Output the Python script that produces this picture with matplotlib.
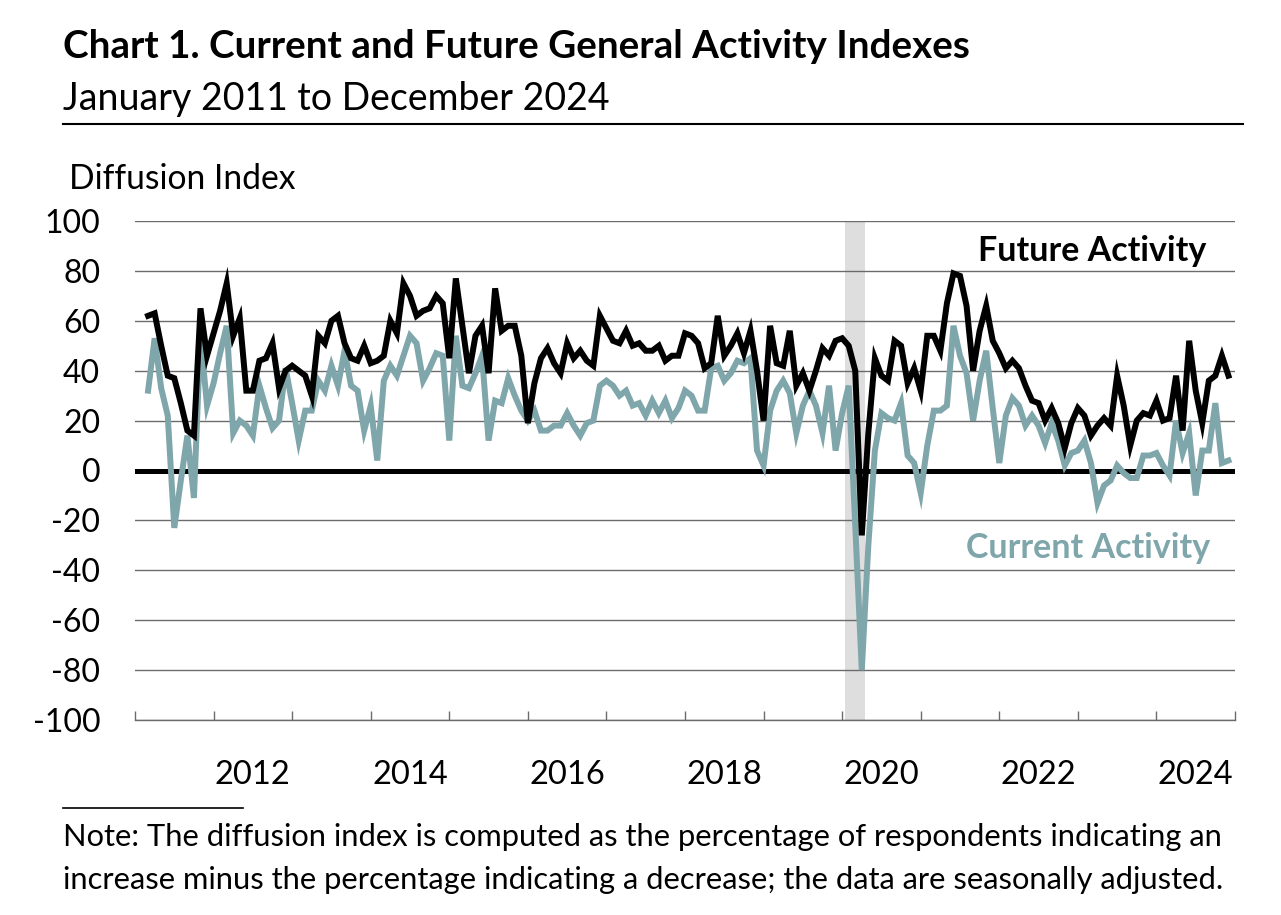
import numpy as np
import pandas as pd
import matplotlib
matplotlib.use('Agg')
import matplotlib.pyplot as plt

# monthly diffusion index values, March 2011 .. December 2024
future = [62, 63, 50, 38, 37, 27, 16, 14, 65, 46,                       # 2011
          55, 64, 75, 54, 61, 32, 32, 44, 45, 51, 33, 40,               # 2012
          42, 40, 38, 30, 54, 51, 60, 62, 51, 45, 44, 50,               # 2013
          43, 44, 46, 60, 55, 75, 70, 62, 64, 65, 70, 67,               # 2014
          45, 77, 58, 39, 54, 58, 39, 73, 56, 58, 58, 46,               # 2015
          19, 35, 45, 49, 43, 39, 51, 45, 48, 44, 42, 62,               # 2016
          57, 52, 51, 56, 50, 51, 48, 48, 50, 44, 46, 46,               # 2017
          55, 54, 51, 41, 43, 62, 46, 50, 55, 47, 56, 40,               # 2018
          20, 58, 43, 42, 56, 34, 39, 32, 40, 49, 46, 52,               # 2019
          53, 50, 40, -26, 15, 45, 38, 36, 52, 50, 35, 41,              # 2020
          32, 54, 54, 48, 67, 79, 78, 66, 40, 56, 66, 52,               # 2021
          47, 41, 44, 41, 34, 28, 27, 20, 25, 19, 9, 19,                # 2022
          25, 22, 14, 18, 21, 18, 38, 26, 10, 20, 23, 22,               # 2023
          28, 20, 21, 38, 16, 52, 32, 19, 36, 38, 46, 38]               # 2024

current = [32, 53, 33, 22, -23, -4, 14, -11, 54, 26,                    # 2011
           35, 47, 58, 15, 20, 18, 14, 34, 25, 17, 20, 41,              # 2012
           27, 12, 24, 24, 36, 32, 42, 34, 48, 34, 32, 16,              # 2013
           26, 4, 36, 42, 38, 46, 54, 51, 36, 41, 47, 46,               # 2014
           12, 54, 34, 33, 39, 46, 12, 28, 27, 37, 30, 24,              # 2015
           20, 24, 16, 16, 18, 18, 23, 18, 14, 19, 20, 34,              # 2016
           36, 34, 30, 32, 26, 27, 22, 28, 23, 28, 21, 25,              # 2017
           32, 30, 24, 24, 41, 42, 36, 39, 44, 43, 45, 8,               # 2018
           2, 24, 32, 36, 31, 15, 26, 32, 26, 15, 34, 8,                # 2019
           23, 34, -22, -80, -30, 8, 23, 21, 20, 27, 6, 3,              # 2020
           -9, 10, 24, 24, 26, 58, 46, 39, 20, 36, 48, 25,              # 2021
           3, 22, 29, 26, 18, 22, 18, 11, 19, 12, 2, 7,                 # 2022
           8, 12, 3, -13, -6, -4, 2, -1, -3, -3, 6, 6,                  # 2023
           7, 2, -2, 20, 7, 15, -10, 8, 8, 27, 3, 4]                    # 2024

months = pd.date_range('2011-03-01', '2024-12-01', freq='MS')
recession = ('2020-02-01', '2020-04-01')
year_labels = ['2012', '2014', '2016', '2018', '2020', '2022', '2024']
y_ticks = list(range(-100, 101, 20))

W, H = 1281, 915
GRAY = '#7FA6AA'

plt.rcParams['font.family'] = ['Lato', 'DejaVu Sans']


def to_year(d):
    d = pd.Timestamp(d)
    return d.year + (d.month - 1) / 12.0


def fx(px):
    return px / W


def fy(py):
    return 1 - py / H


x = np.array([to_year(m) for m in months])

fig = plt.figure(figsize=(W / 100, H / 100), dpi=100)
ax = fig.add_axes([fx(135), fy(720), fx(1235) - fx(135), fy(221) - fy(720)])

# recession shading
r0 = to_year(recession[0]) - 0.5 / 12
r1 = to_year(recession[1]) + 0.5 / 12
ax.axvspan(r0, r1, color='#DEDEDE', lw=0, zorder=0)

for v in y_ticks:
    if v == 0:
        continue
    ax.axhline(v, color='#6b6b6b', lw=1.0, zorder=1)
ax.axhline(0, color='black', lw=3.6, zorder=2)

ax.plot(x, current, color=GRAY, lw=4.3, solid_joinstyle='miter', zorder=3)
ax.plot(x, future, color='black', lw=4.3, solid_joinstyle='miter', zorder=4)

ax.set_xlim(2011, 2025)
ax.set_ylim(-100, 100)
ax.set_yticks(y_ticks)
ax.set_yticklabels([str(v) for v in y_ticks], fontsize=23)
ax.tick_params(axis='y', length=0, pad=25)

ax.set_xticks(range(2011, 2026))
ax.set_xticklabels([])
ax.set_xticks([int(y) + 0.5 for y in year_labels], minor=True)
ax.set_xticklabels(year_labels, minor=True, fontsize=23.5)
ax.tick_params(axis='x', which='major', direction='in', length=6.5, width=1, color='#6b6b6b')
ax.tick_params(axis='x', which='minor', length=0, pad=29)

for s in ['top', 'right', 'left']:
    ax.spines[s].set_visible(False)
ax.spines['bottom'].set_color('#6b6b6b')
ax.spines['bottom'].set_linewidth(1.0)

ax.text(2024.64, 88, 'Future Activity', fontsize=24.5, fontweight='bold',
        color='black', ha='right', va='center')
ax.text(2024.68, -31, 'Current Activity', fontsize=24.5, fontweight='bold',
        color=GRAY, ha='right', va='center')

# header
fig.text(fx(63), fy(46), 'Chart 1. Current and Future General Activity Indexes',
         fontsize=27.8, fontweight='bold', va='center', ha='left')
fig.text(fx(63), fy(99), 'January 2011 to December 2024', fontsize=27,
         va='center', ha='left')
fig.add_artist(plt.Line2D([fx(63), fx(1243)], [fy(124), fy(124)], color='black', lw=1.5))
fig.text(fx(69), fy(179), 'Diffusion Index', fontsize=24.2, va='center', ha='left')

# note
fig.add_artist(plt.Line2D([fx(63), fx(243)], [fy(808), fy(808)], color='black', lw=1.2))
fig.text(fx(63), fy(837), 'Note: The diffusion index is computed as the percentage of respondents indicating an',
         fontsize=22.2, va='center', ha='left')
fig.text(fx(63), fy(880), 'increase minus the percentage indicating a decrease; the data are seasonally adjusted.',
         fontsize=22.2, va='center', ha='left')

fig.savefig('out.png', dpi=100)
